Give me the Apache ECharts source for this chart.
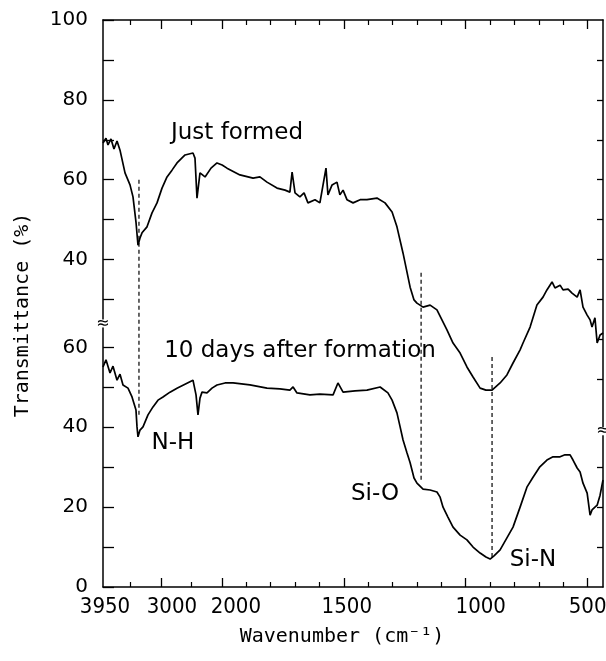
<!DOCTYPE html>
<html><head><meta charset="utf-8">
<script src="https://cdn.jsdelivr.net/npm/echarts@6/dist/echarts.min.js"></script>
<style>html,body{margin:0;padding:0;background:#fff}#c{width:606px;height:661px}</style>
</head><body><div id="c"></div>
<script>
// ---- data (wavenumber in cm-1, transmittance in %) ----
const justFormedWn = [3950,3901,3868,3819,3770,3720,3671,3589,3507,3458,3409,3376,3343,3310,3228,3146,3064,2982,2900,2818,2736,2604,2474,2441,2408,2359,2276,2178,2080,1999,1979,1926,1872,1844,1815,1774,1741,1721,1712,1700,1680,1663,1647,1618,1598,1573,1565,1548,1528,1516,1503,1487,1462,1433,1405,1364,1331,1302,1282,1257,1228,1212,1200,1175,1146,1118,1077,1052,1023,995,970,941,917,892,859,831,806,777,765,736,708,683,667,646,634,613,601,580,564,543,531,519,502,490,482,470,461,449,437];
const justFormedT = [69.2,70.4,68.7,70.2,67.7,69.7,67.4,61.7,58.7,55.7,49.4,43.6,45.4,46.7,48.2,51.7,54.2,57.9,60.7,62.4,64.2,66.2,66.7,65.4,55.4,61.7,60.7,62.9,64.2,63.7,62.9,61.2,60.4,60.7,59.4,57.9,57.4,56.9,61.9,56.7,55.7,56.7,54.2,55.0,54.2,62.9,56.2,58.7,59.4,56.2,57.4,55.0,54.2,55.0,55.0,55.4,54.2,51.9,48.2,41.6,33.1,29.9,29.1,28.1,28.6,27.4,22.4,19.1,16.6,13.1,10.6,7.8,7.3,7.3,9.1,11.1,14.1,17.4,19.1,23.1,28.6,30.6,32.4,34.4,32.9,33.6,32.4,32.6,31.6,30.6,32.4,28.1,26.1,24.9,23.1,25.4,19.1,21.1,21.6];
const tenDaysWn = [3950,3901,3835,3786,3720,3671,3622,3540,3474,3409,3392,3376,3343,3294,3212,3130,3048,2966,2851,2736,2605,2474,2424,2392,2359,2326,2244,2162,2080,1987,1954,1885,1815,1762,1721,1708,1692,1639,1598,1544,1524,1503,1454,1405,1351,1319,1302,1282,1269,1257,1241,1228,1212,1200,1175,1146,1118,1105,1093,1073,1052,1023,995,970,941,917,900,884,859,831,806,777,749,724,696,667,642,613,593,572,560,543,531,519,502,490,482,470,461,449,437];
const tenDaysT = [55.1,56.9,53.6,55.3,51.8,53.3,50.6,49.8,47.6,44.3,40.1,37.6,39.3,40.1,43.1,45.1,46.8,47.6,48.8,49.8,50.8,51.8,48.1,43.1,47.3,48.8,48.6,49.8,50.6,51.1,51.1,50.6,49.8,49.6,49.3,50.1,48.6,48.1,48.3,48.1,51.1,48.8,49.1,49.3,50.1,48.6,46.8,43.6,40.1,36.8,33.6,31.1,27.3,26.0,24.5,24.3,23.8,22.5,20.0,17.5,15.0,13.0,11.8,10.0,8.5,7.5,7.0,7.8,9.3,12.3,15.0,20.0,25.0,27.5,30.1,31.8,32.6,32.6,33.1,33.1,31.8,29.8,28.8,26.0,23.5,18.0,19.3,20.0,20.5,23.0,26.8];
const seriesNames = ['Just formed', '10 days after formation'];

// axis ticks / labels
const xTickLabels = [3950, 3000, 2000, 1500, 1000, 500];
const xMajorTicks = [3000, 2000, 1500, 1000, 500];
const xMinorTicks = [3500, 2500, 1900, 1800, 1700, 1600, 1400, 1300, 1200, 1100, 900, 800, 700, 600];
const yLabelsBottom = [0, 20, 40, 60];
const yLabelsTop = [40, 60, 80, 100];
const yTicksBottom = [0, 10, 20, 30, 40, 50, 60];
const yTicksTop = [30, 40, 50, 60, 70, 80, 90, 100];
const yRightTicksBottom = [10, 20, 30];
const yRightTicksTop = [10, 20, 30, 40, 50, 60, 70, 80, 90];

// absorption band markers
const bandNames = ['N-H', 'Si-O', 'Si-N'];
const bandWn = [3360, 1183, 892];
const bandFrom = [102, 78.7, 57.6];   // stacked-axis units
const bandTo = [42.6, 26.1, 7.5];

// ---- scale: above 2000 cm-1 the axis is compressed 4x; upper trace shifted up ----
const BREAK = 2000, COMP = 4, TOP_OFFSET = 42;
const toAxis = w => w <= BREAK ? w : BREAK + (w - BREAK) / COMP;
const fromAxis = t => t <= BREAK ? t : BREAK + (t - BREAK) * COMP;
const X_MIN = 437, X_MAX = toAxis(3950);
const Y_MAX = 100 + TOP_OFFSET;

const xLabelShift = {3950: 2, 3000: 11, 2000: 14, 1500: 3, 1000: 15, 500: 0};
const xLabelFont = {fontFamily: "'DejaVu Sans Condensed','Liberation Sans',sans-serif", fontSize: 22, color: '#000'};
const rich = {};
Object.values(xLabelShift).forEach(s => { rich['o' + s] = Object.assign({padding: [0, 0, 0, 2 * s]}, xLabelFont); });

const BLACK = '#000';
const lineAxis = {show: true, lineStyle: {color: BLACK, width: 1.5}};

const topData = justFormedWn.map((w, i) => [toAxis(w), justFormedT[i] + TOP_OFFSET]);
const botData = tenDaysWn.map((w, i) => [toAxis(w), tenDaysT[i]]);

const baseX = {type: 'value', min: X_MIN, max: X_MAX, inverse: true, splitLine: {show: false}};
const chart = echarts.init(document.getElementById('c'), null, {renderer: 'canvas'});

const series = [
  {name: seriesNames[0], type: 'line', data: topData, showSymbol: false, symbol: 'none', lineStyle: {color: BLACK, width: 1.7}, z: 5},
  {name: seriesNames[1], type: 'line', data: botData, showSymbol: false, symbol: 'none', lineStyle: {color: BLACK, width: 1.7}, z: 5}
];
bandWn.forEach((w, i) => series.push({
  name: bandNames[i], type: 'line', symbol: 'none', silent: true,
  data: [[toAxis(w), bandFrom[i]], [toAxis(w), bandTo[i]]],
  lineStyle: {color: BLACK, width: 1.2, type: [4, 3]}
}));

chart.setOption({
  animation: false,
  backgroundColor: '#fff',
  grid: {left: 103, right: 3, top: 20, bottom: 74, containLabel: false, outerBoundsMode: 'none'},
  xAxis: [
    Object.assign({}, baseX, {
      position: 'bottom', axisLine: lineAxis,
      axisTick: {inside: true, length: 9, lineStyle: {color: BLACK, width: 1.3}, customValues: xMajorTicks.map(toAxis)},
      axisLabel: {customValues: xTickLabels.map(toAxis), margin: 9, rich: rich,
        formatter: v => { const w = Math.round(fromAxis(v)); return '{o' + (xLabelShift[w] || 0) + '|' + w + '}'; }},
      name: 'Wavenumber (cm\u207B\u00B9)', nameLocation: 'middle', nameGap: 40,
      nameTextStyle: {fontFamily: "'DejaVu Sans Mono',monospace", fontSize: 20, color: BLACK, padding: [0, 22, 0, 0]}
    }),
    Object.assign({}, baseX, {
      position: 'bottom', axisLine: {show: false},
      axisTick: {inside: true, length: 5, lineStyle: {color: BLACK, width: 1.2}, customValues: xMinorTicks.map(toAxis)},
      axisLabel: {show: false}
    }),
    Object.assign({}, baseX, {
      position: 'top', axisLine: lineAxis,
      axisTick: {inside: true, length: 9, lineStyle: {color: BLACK, width: 1.3}, customValues: xMajorTicks.map(toAxis)},
      axisLabel: {show: false}
    }),
    Object.assign({}, baseX, {
      position: 'top', axisLine: {show: false},
      axisTick: {inside: true, length: 5, lineStyle: {color: BLACK, width: 1.2}, customValues: xMinorTicks.map(toAxis)},
      axisLabel: {show: false}
    })
  ],
  yAxis: [
    {
      type: 'value', position: 'left', min: 0, max: Y_MAX, splitLine: {show: false}, axisLine: lineAxis,
      axisTick: {inside: true, length: 11, lineStyle: {color: BLACK, width: 1.3},
        customValues: yTicksBottom.concat(yTicksTop.map(v => v + TOP_OFFSET))},
      axisLabel: {customValues: yLabelsBottom.concat(yLabelsTop.map(v => v + TOP_OFFSET)), margin: 15,
        fontFamily: "'DejaVu Sans',sans-serif", fontSize: 20, color: BLACK,
        formatter: v => String(Math.round(v > 62 ? v - TOP_OFFSET : v))},
      name: 'Transmittance (%)', nameLocation: 'middle', nameGap: 70,
      nameTextStyle: {fontFamily: "'DejaVu Sans Mono',monospace", fontSize: 20, color: BLACK, padding: [0, 23, 0, 0]}
    },
    {
      type: 'value', position: 'right', min: 0, max: Y_MAX, splitLine: {show: false}, axisLine: lineAxis,
      axisTick: {inside: true, length: 6, lineStyle: {color: BLACK, width: 1.3},
        customValues: yRightTicksBottom.concat(yRightTicksTop.map(v => v + TOP_OFFSET))},
      axisLabel: {show: false}
    }
  ],
  series: series
});

// ---- annotations and axis-break marks ----
const px = (xi, yi, x, y) => chart.convertToPixel({xAxisIndex: xi, yAxisIndex: yi}, [x, y]);
const textFont = "23px 'DejaVu Sans', sans-serif";
const annotations = [
  {text: seriesNames[0], x: 237, y: 133},
  {text: seriesNames[1], x: 300, y: 351},
  {text: bandNames[0], x: 173, y: 443},
  {text: bandNames[1], x: 375, y: 494},
  {text: bandNames[2], x: 533, y: 560}
];
const graphics = annotations.map(a => ({
  type: 'text', z: 10,
  style: {text: a.text, x: a.x, y: a.y, align: 'center', verticalAlign: 'middle', font: textFont, fill: BLACK}
}));
const leftBreak = px(0, 0, X_MAX, 66);
const rightBreak = px(0, 0, X_MIN, 39);
[leftBreak, rightBreak].forEach(p => {
  graphics.push({type: 'rect', z: 11, shape: {x: p[0] - 4, y: p[1] - 4, width: 8, height: 8}, style: {fill: '#fff'}});
  graphics.push({type: 'text', z: 12, style: {text: '\u2248', x: p[0], y: p[1], align: 'center', verticalAlign: 'middle', font: "16px 'DejaVu Sans'", fill: BLACK}});
});
chart.setOption({graphic: graphics});
</script>
</body></html>
